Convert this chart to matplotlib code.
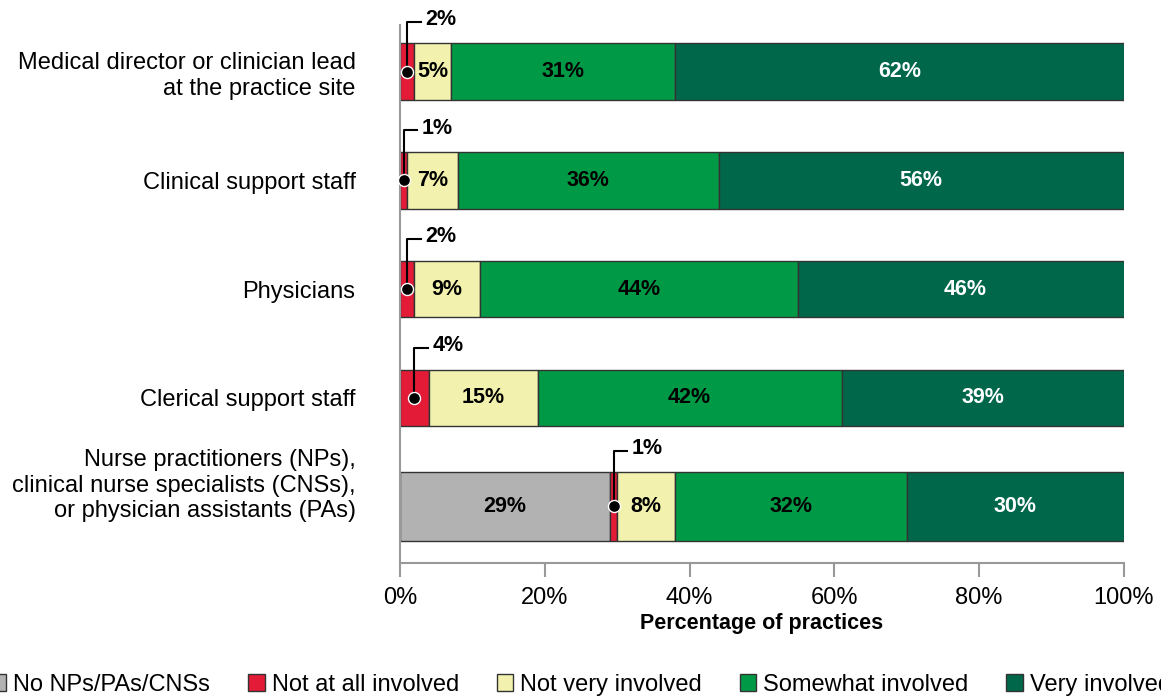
import matplotlib.pyplot as plt
from matplotlib.patches import Patch

plt.rcParams['font.family'] = ['Liberation Sans', 'DejaVu Sans']

staff_groups = [
    'Medical director or clinician lead\nat the practice site',
    'Clinical support staff',
    'Physicians',
    'Clerical support staff',
    'Nurse practitioners (NPs),\nclinical nurse specialists (CNSs),\nor physician assistants (PAs)',
]
categories = ['No NPs/PAs/CNSs', 'Not at all involved', 'Not very involved',
              'Somewhat involved', 'Very involved']
no_staff = [0, 0, 0, 0, 29]
not_at_all = [2, 1, 2, 4, 1]
not_very = [5, 7, 9, 15, 8]
somewhat = [31, 36, 44, 42, 32]
very = [62, 56, 46, 39, 30]

colors = ['#b2b2b2', '#e31b37', '#f2f2ae', '#009a46', '#00674b']
text_colors = ['black', 'black', 'black', 'black', 'white']
bar_heights = [0.52, 0.52, 0.52, 0.52, 0.63]

fig = plt.figure(figsize=(11.61, 6.98), dpi=100)
ax = fig.add_axes([0.3445, 0.1934, 0.6236, 0.7708])

series = [no_staff, not_at_all, not_very, somewhat, very]
ypos = list(range(len(staff_groups)))
left = [0] * len(staff_groups)
for k, vals in enumerate(series):
    ax.barh(ypos, vals, left=left, height=bar_heights, color=colors[k],
            edgecolor='#333333', linewidth=1.0, zorder=2)
    for i, v in enumerate(vals):
        if v == 0:
            continue
        xc = left[i] + v / 2
        if k == 1:
            # small red segments get a callout above the bar
            y_top = ypos[i] - bar_heights[i] / 2 - 0.2
            ax.plot([xc, xc, xc + 1.9], [ypos[i], y_top, y_top],
                    color='black', lw=1.5, zorder=4, clip_on=False)
            ax.scatter([xc], [ypos[i]], s=75, color='black', edgecolor='white',
                       linewidth=1.0, zorder=5, clip_on=False)
            ax.text(xc + 2.5, y_top - 0.02, f'{v}%', ha='left', va='center',
                    fontsize=15.5, fontweight='bold', zorder=5)
        else:
            ax.text(xc, ypos[i], f'{v}%', ha='center', va='center',
                    fontsize=15.5, fontweight='bold', color=text_colors[k], zorder=3)
    left = [l + v for l, v in zip(left, vals)]

ax.set_xlim(0, 100)
ax.set_ylim(4.52, -0.43)
# the three-line label sits a little higher than its bar
label_pos = ypos[:4] + [3.77]
ax.set_yticks(label_pos)
ax.set_yticklabels(staff_groups, fontsize=17)
ax.tick_params(axis='y', length=0, pad=32)
ax.set_xticks([0, 20, 40, 60, 80, 100])
ax.set_xticklabels([f'{t}%' for t in [0, 20, 40, 60, 80, 100]], fontsize=17)
ax.tick_params(axis='x', length=10, width=1.5, color='#999999', pad=7)
ax.set_xlabel('Percentage of practices', fontsize=15.5, fontweight='bold', labelpad=3)

for side in ['top', 'right']:
    ax.spines[side].set_visible(False)
for side in ['left', 'bottom']:
    ax.spines[side].set_color('#999999')
    ax.spines[side].set_linewidth(1.5)

handles = [Patch(facecolor=c, edgecolor='#333333', linewidth=1.0) for c in colors]
fig.legend(handles, categories, loc='center', bbox_to_anchor=(0.5, 0.0186),
           ncol=5, frameon=False, fontsize=17, handlelength=0.7, handleheight=0.7,
           handletextpad=0.3, columnspacing=1.6)

fig.savefig('out.png', dpi=100)
